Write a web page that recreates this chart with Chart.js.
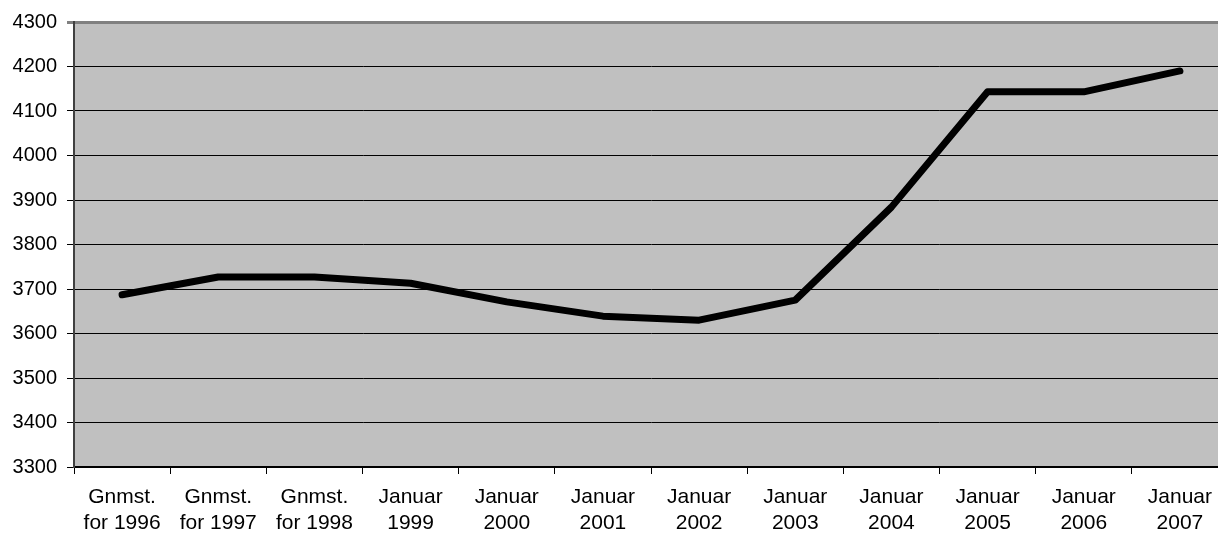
<!DOCTYPE html>
<html>
<head>
<meta charset="utf-8">
<script src="https://cdn.jsdelivr.net/npm/chart.js@4.4.1/dist/chart.umd.min.js"></script>
<style>
  html, body { margin:0; padding:0; background:#fff; overflow:hidden; }
  #wrap { position:relative; width:1228px; height:534px; }
</style>
</head>
<body>
<div id="wrap"><canvas id="chart"></canvas></div>
<script>
// Data
const categories = [
  ['Gnmst.', 'for 1996'], ['Gnmst.', 'for 1997'], ['Gnmst.', 'for 1998'],
  ['Januar', '1999'], ['Januar', '2000'], ['Januar', '2001'],
  ['Januar', '2002'], ['Januar', '2003'], ['Januar', '2004'],
  ['Januar', '2005'], ['Januar', '2006'], ['Januar', '2007']
];
const values = [3687, 3727, 3727, 3713, 3671, 3639, 3630, 3675, 3884, 4143, 4143, 4190];
const yMin = 3300, yMax = 4300, yStep = 100;

// gray plot area
const plotBg = {
  id: 'plotBg',
  beforeDraw(chart){
    const a = chart.chartArea, c = chart.ctx;
    c.save();
    c.fillStyle = '#c0c0c0';
    c.fillRect(a.left, a.top, a.right - a.left, a.bottom - a.top);
    c.restore();
  }
};

const ctx = document.getElementById('chart').getContext('2d');
new Chart(ctx, {
  type: 'line',
  data: {
    labels: categories,
    datasets: [{
      data: values,
      borderColor: '#000',
      borderWidth: 7,
      borderCapStyle: 'round',
      borderJoinStyle: 'round',
      pointRadius: 0,
      tension: 0
    }]
  },
  options: {
    responsive: true,
    maintainAspectRatio: false,
    animation: false,
    layout: { padding: { top: 21, right: 0, left: 0, bottom: 0 } },
    plugins: { legend: { display: false }, tooltip: { enabled: false } },
    scales: {
      x: {
        offset: true,
        grid: { offset: true, drawOnChartArea: false, color: '#000', tickLength: 7 },
        border: { color: '#000', width: 2 },
        ticks: {
          color: '#000', maxRotation: 0, autoSkip: false, padding: 11,
          font: { family: 'Liberation Sans, Arial, sans-serif', size: 21, lineHeight: 1.2 }
        },
        afterFit(scale){ scale.height = 67; }
      },
      y: {
        min: yMin, max: yMax,
        grid: {
          color: c => c.tick && c.tick.value === yMax ? '#808080' : '#000',
          lineWidth: c => c.tick && c.tick.value === yMax ? 3 : 1,
          tickLength: 7
        },
        border: { color: '#404040', width: 2 },
        ticks: {
          stepSize: yStep, color: '#000', padding: 10,
          callback: v => String(v),
          font: { family: 'Liberation Sans, Arial, sans-serif', size: 20 }
        },
        afterFit(scale){ scale.width = 74; }
      }
    }
  },
  plugins: [plotBg]
});
</script>
</body>
</html>
